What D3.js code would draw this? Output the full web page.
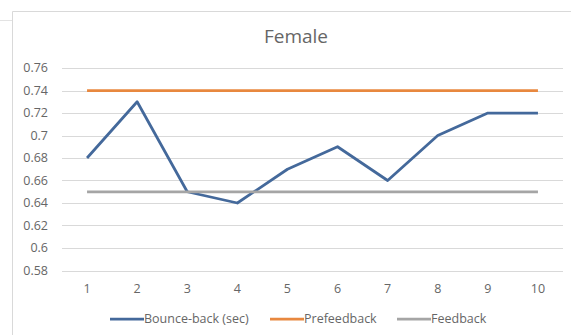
<!DOCTYPE html>
<html>
<head>
  <script type="text/javascript" src="https://d3js.org/d3.v7.min.js"></script>
  <style>
    body { margin: 0; background-color: white; }
    text { font-family: "Open Sans", sans-serif; fill: #666666; }
  </style>
</head>
<body>
  <svg id="canvas" width="571" height="335"></svg>
</body>
<script>
  const categories = ["1", "2", "3", "4", "5", "6", "7", "8", "9", "10"];
  const bounceBack = [0.68, 0.73, 0.65, 0.64, 0.67, 0.69, 0.66, 0.70, 0.72, 0.72];
  const prefeedback = [0.74, 0.74, 0.74, 0.74, 0.74, 0.74, 0.74, 0.74, 0.74, 0.74];
  const feedback = [0.65, 0.65, 0.65, 0.65, 0.65, 0.65, 0.65, 0.65, 0.65, 0.65];
  const yTicks = [0.58, 0.6, 0.62, 0.64, 0.66, 0.68, 0.7, 0.72, 0.74, 0.76];

  const series = [
    { name: "Bounce-back (sec)", values: bounceBack, color: "#44699b" },
    { name: "Prefeedback", values: prefeedback, color: "#e8883f" },
    { name: "Feedback", values: feedback, color: "#a5a5a5" }
  ];

  let svg = d3.select("svg");

  // chart frame (cropped at right and bottom)
  svg.append("path")
      .attr("d", "M12.5,335 V11.5 H571")
      .attr("fill", "none")
      .attr("stroke", "#d9d9d9");
  svg.append("line")
      .attr("x1", 0).attr("x2", 12).attr("y1", 20.5).attr("y2", 20.5)
      .attr("stroke", "#e3e3e3");

  let x = d3.scaleBand().domain(categories).range([62, 563]);
  let y = d3.scaleLinear().domain([0.58, 0.76]).range([270.5, 68]);

  // gridlines
  svg.append("g")
    .selectAll("line")
    .data(yTicks)
    .join("line")
      .attr("x1", 62).attr("x2", 563)
      .attr("y1", d => Math.round(y(d)) + 0.5)
      .attr("y2", d => Math.round(y(d)) + 0.5)
      .attr("stroke", "#d9d9d9");

  // y axis labels
  svg.append("g")
    .selectAll("text")
    .data(yTicks)
    .join("text")
      .attr("x", 48)
      .attr("y", d => y(d))
      .attr("dy", "0.35em")
      .attr("text-anchor", "end")
      .attr("font-size", 12.5)
      .text(d => d3.format("")(+d.toFixed(2)));

  // x axis labels
  svg.append("g")
    .selectAll("text")
    .data(categories)
    .join("text")
      .attr("x", d => x(d) + x.bandwidth() / 2)
      .attr("y", 289)
      .attr("dy", "0.35em")
      .attr("text-anchor", "middle")
      .attr("font-size", 12.5)
      .text(d => d);

  let line = d3.line()
      .x((d, i) => x(categories[i]) + x.bandwidth() / 2)
      .y(d => y(d));

  series.forEach(s => {
    svg.append("path")
        .datum(s.values)
        .attr("d", line)
        .attr("fill", "none")
        .attr("stroke", s.color)
        .attr("stroke-width", 2.75)
        .attr("stroke-linejoin", "round");
  });

  // title
  svg.append("text")
      .attr("x", 296)
      .attr("y", 43)
      .attr("text-anchor", "middle")
      .attr("font-size", 19)
      .text("Female");

  // legend
  const legendX = [110, 270, 397];
  series.forEach((s, i) => {
    let g = svg.append("g").attr("transform", `translate(${legendX[i]},319)`);
    g.append("line")
        .attr("x1", 0).attr("x2", 34)
        .attr("stroke", s.color)
        .attr("stroke-width", 2.75);
    g.append("text")
        .attr("x", 34)
        .attr("dy", "0.35em")
        .attr("font-size", 12.5)
        .text(s.name);
  });
</script>
</html>
